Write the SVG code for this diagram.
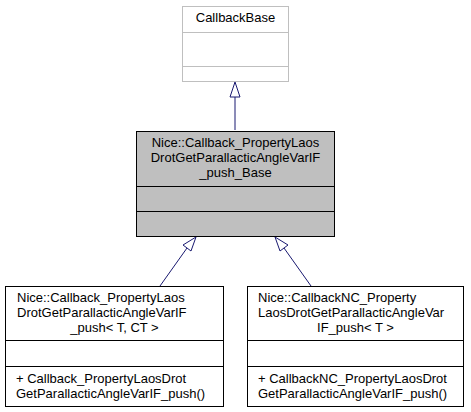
<svg xmlns="http://www.w3.org/2000/svg" width="471" height="412" viewBox="0 0 471 412">
<style>
text{font-family:"Liberation Sans",Arial,sans-serif;font-size:13px;fill:#000}
.m{text-anchor:middle}
.box{fill:#fff;stroke:#000;stroke-width:1}
.gray{fill:#fff;stroke:#bfbfbf;stroke-width:1}
.cur{fill:#bfbfbf;stroke:#000;stroke-width:1}
.edge{fill:none;stroke:#191970;stroke-width:1}
.head{fill:#fff;stroke:#191970;stroke-width:1}
</style>
<rect width="471" height="412" fill="#fff"/>
<g id="connectors">
<path class="edge" d="M235,130 V97"/>
<polygon class="head" points="235,82 230,97 240,97"/>
<path class="edge" d="M160,286 L187,248"/>
<polygon class="head" points="196,237 183,245 191,251"/>
<path class="edge" d="M311,286 L284,248"/>
<polygon class="head" points="275,237 280,251 288,245"/>
</g>
<g id="CallbackBase">
<rect class="gray" x="182.5" y="6.5" width="106" height="75"/>
<line class="gray" x1="182.5" y1="32.5" x2="288.5" y2="32.5"/>
<line class="gray" x1="182.5" y1="66.5" x2="288.5" y2="66.5"/>
<text class="m" x="235.5" y="22">CallbackBase</text>
</g>
<g id="Base">
<rect class="cur" x="136.5" y="131.5" width="198" height="105"/>
<line class="cur" x1="136.5" y1="186.5" x2="334.5" y2="186.5"/>
<line class="cur" x1="136.5" y1="211.5" x2="334.5" y2="211.5"/>
<text class="m" x="235.5" y="147">Nice::Callback_PropertyLaos</text>
<text class="m" x="235.5" y="162">DrotGetParallacticAngleVarIF</text>
<text class="m" x="235.5" y="177">_push_Base</text>
</g>
<g id="Push">
<rect class="box" x="5.5" y="286.5" width="218" height="120"/>
<line class="box" x1="5.5" y1="340.5" x2="223.5" y2="340.5"/>
<line class="box" x1="5.5" y1="366.5" x2="223.5" y2="366.5"/>
<text x="17" y="302">Nice::Callback_PropertyLaos</text>
<text x="17" y="317">DrotGetParallacticAngleVarIF</text>
<text class="m" x="114.5" y="332">_push&lt; T, CT &gt;</text>
<text x="16" y="383">+ Callback_PropertyLaosDrot</text>
<text x="16" y="398">GetParallacticAngleVarIF_push()</text>
</g>
<g id="PushNC">
<rect class="box" x="247.5" y="286.5" width="216" height="120"/>
<line class="box" x1="247.5" y1="340.5" x2="463.5" y2="340.5"/>
<line class="box" x1="247.5" y1="366.5" x2="463.5" y2="366.5"/>
<text x="258" y="302">Nice::CallbackNC_Property</text>
<text x="258" y="317">LaosDrotGetParallacticAngleVar</text>
<text class="m" x="355.5" y="332">IF_push&lt; T &gt;</text>
<text x="258" y="383">+ CallbackNC_PropertyLaosDrot</text>
<text x="258" y="398">GetParallacticAngleVarIF_push()</text>
</g>
</svg>
